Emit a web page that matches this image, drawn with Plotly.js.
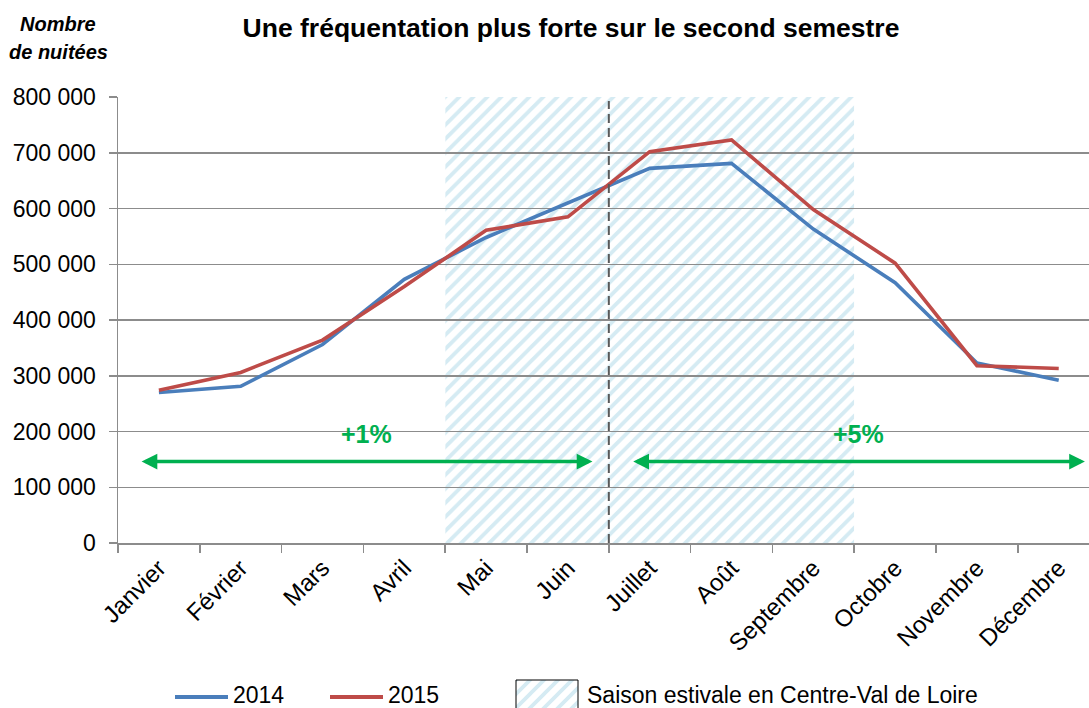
<!DOCTYPE html>
<html>
<head>
<meta charset="utf-8">
<script src="https://cdn.plot.ly/plotly-3.0.1.min.js"></script>
<style>html,body{margin:0;padding:0;background:#fff;}</style>
</head>
<body>
<div id="chart" style="width:1089px;height:708px;"></div>
<script>
const months = ['Janvier','Février','Mars','Avril','Mai','Juin','Juillet','Août','Septembre','Octobre','Novembre','Décembre'];
const nuitees2014 = [270000, 281000, 356000, 473000, 548000, 610000, 672000, 681000, 563000, 467000, 323000, 292000];
const nuitees2015 = [274000, 306000, 364000, 460000, 561000, 585000, 702000, 723000, 598000, 502000, 318000, 313000];
const seasonFirst = 'Mai';
const seasonLast = 'Septembre';
const yMax = 800000;
const yTicks = [0, 100000, 200000, 300000, 400000, 500000, 600000, 700000, 800000];
const growthLabels = ['+1%', '+5%'];
const seriesNames = ['2014', '2015'];
const seasonName = 'Saison estivale en Centre-Val de Loire';

const FONT = '"Liberation Sans", Arial, sans-serif';
const GRID = '#8c8c8c';
const GREEN = '#00B050';
const HATCH = '#d5ebf3';

const W = 1089, H = 708, ML = 118, MT = 97;
const PW = W - ML, PH = H - MT;
const px = x => (x - ML) / PW;
const py = y => (H - y) / PH;

// hatch tile (stripes "/") as an SVG image, placed below the gridlines
function hatchSVG(w, h) {
  const s = 14;
  const svg = `<svg xmlns="http://www.w3.org/2000/svg" width="${w}" height="${h}" viewBox="0 0 ${w} ${h}">` +
    `<defs><pattern id="p" width="${s}" height="${s}" patternUnits="userSpaceOnUse">` +
    `<path d="M-2,2 L2,-2 M0,${s} L${s},0 M${s-2},${s+2} L${s+2},${s-2}" stroke="${HATCH}" stroke-width="3.8"/>` +
    `</pattern></defs><rect x="0" y="0" width="${w}" height="${h}" fill="url(#p)"/></svg>`;
  return 'data:image/svg+xml;charset=utf-8,' + encodeURIComponent(svg);
}

const iFirst = months.indexOf(seasonFirst) - 0.5;
const iLast = months.indexOf(seasonLast) + 0.5;
const xRange = [-0.5, 11.37];
const yDomain = [py(543), 1];
const bandPxW = Math.round((iLast - iFirst) / (xRange[1] - xRange[0]) * PW);
const bandPxH = Math.round((yDomain[1] - yDomain[0]) * PH);

const traces = [
  {type:'scatter', mode:'lines', x: months, y: nuitees2014, name: seriesNames[0],
   line:{color:'#4A7EBB', width:3.6}, showlegend:false},
  {type:'scatter', mode:'lines', x: months, y: nuitees2015, name: seriesNames[1],
   line:{color:'#BE4B48', width:3.6}, showlegend:false}
];

const layout = {
  width: W, height: H,
  margin: {l: ML, r: 0, t: MT, b: 0},
  paper_bgcolor:'#fff', plot_bgcolor:'rgba(0,0,0,0)',
  separators: ', ',
  showlegend: false,
  font: {family: FONT, size: 23, color:'#000'},
  title: {text: 'Une fréquentation plus forte sur le second semestre',
    font:{family: FONT, size: 26.5, color:'#000', weight: 'bold'},
    xref:'container', x: 571 / W, xanchor:'center', yref:'container', y: 1 - 28 / H, yanchor:'middle'},
  xaxis: {type:'category', categoryorder:'array', categoryarray: months,
    range: xRange, domain:[0,1], anchor:'y',
    tickson:'boundaries', ticks:'outside', ticklen:8, tickwidth:1.5, tickcolor:GRID,
    showline:true, linecolor:GRID, linewidth:1.5, showgrid:false, zeroline:false,
    tickangle:-45, tickfont:{family:FONT, size:24, color:'#000'}, automargin:false, fixedrange:true},
  yaxis: {range:[0, yMax], domain: yDomain, anchor:'x',
    tickvals: yTicks, tickformat:',d', ticks:'outside', ticklen:8, tickwidth:1.5, tickcolor:GRID,
    showline:true, linecolor:GRID, linewidth:1.5, showgrid:true, gridcolor:GRID, gridwidth:1.5,
    zeroline:false, tickfont:{family:FONT, size:23, color:'#000'}, ticklabelstandoff: 8,
    automargin:false, fixedrange:true},
  images: [
    {source: hatchSVG(bandPxW, bandPxH), xref:'x', yref:'y', x: iFirst, y: yMax,
     sizex: iLast - iFirst, sizey: yMax, sizing:'stretch', xanchor:'left', yanchor:'top', layer:'below'},
    {source: hatchSVG(62, 30), xref:'paper', yref:'paper', x: px(516), y: py(680),
     sizex: px(578) - px(516), sizey: py(680) - py(710), sizing:'stretch', xanchor:'left', yanchor:'top', layer:'above'}
  ],
  shapes: [
    {type:'line', xref:'x', yref:'y', x0:5.5, x1:5.5, y0:0, y1:793000,
     line:{color:'#595959', width:2, dash:'9px,5px'}},
    {type:'line', xref:'paper', yref:'paper', x0:px(175), x1:px(228), y0:py(697), y1:py(697),
     line:{color:'#4A7EBB', width:4}},
    {type:'line', xref:'paper', yref:'paper', x0:px(330), x1:px(383), y0:py(697), y1:py(697),
     line:{color:'#BE4B48', width:4}},
    {type:'path', xref:'paper', yref:'paper',
     path:`M${px(516)},${py(712)} L${px(516)},${py(680)} L${px(578)},${py(680)} L${px(578)},${py(712)}`,
     line:{color:'#000', width:1}}
  ],
  annotations: [
    {xref:'x', yref:'y', axref:'x', ayref:'y', x:5.30, y:146000, ax:-0.23, ay:146000, text:'',
     showarrow:true, arrowside:'end+start', arrowhead:2, startarrowhead:2, arrowsize:0.9, startarrowsize:0.9,
     arrowwidth:3.5, arrowcolor:GREEN, standoff:0, startstandoff:0},
    {xref:'x', yref:'y', axref:'x', ayref:'y', x:11.32, y:146000, ax:5.78, ay:146000, text:'',
     showarrow:true, arrowside:'end+start', arrowhead:2, startarrowhead:2, arrowsize:0.9, startarrowsize:0.9,
     arrowwidth:3.5, arrowcolor:GREEN, standoff:0, startstandoff:0},
    {xref:'x', yref:'y', x:2.54, y:195000, text: growthLabels[0], showarrow:false,
     font:{family:FONT, size:25, color:GREEN, weight:'bold'}, xanchor:'center', yanchor:'middle'},
    {xref:'x', yref:'y', x:8.55, y:195000, text: growthLabels[1], showarrow:false,
     font:{family:FONT, size:25, color:GREEN, weight:'bold'}, xanchor:'center', yanchor:'middle'},
    {xref:'paper', yref:'paper', x:px(58), y:py(24), text:'<b><i>Nombre</i></b>', showarrow:false,
     font:{family:FONT, size:20, color:'#000'}, xanchor:'center', yanchor:'middle'},
    {xref:'paper', yref:'paper', x:px(58), y:py(52), text:'<b><i>de nuitées</i></b>', showarrow:false,
     font:{family:FONT, size:20, color:'#000'}, xanchor:'center', yanchor:'middle'},
    {xref:'paper', yref:'paper', x:px(231), y:py(695), text: seriesNames[0], showarrow:false,
     font:{family:FONT, size:23, color:'#000'}, xanchor:'left', yanchor:'middle'},
    {xref:'paper', yref:'paper', x:px(386), y:py(695), text: seriesNames[1], showarrow:false,
     font:{family:FONT, size:23, color:'#000'}, xanchor:'left', yanchor:'middle'},
    {xref:'paper', yref:'paper', x:px(585), y:py(695), text: seasonName, showarrow:false,
     font:{family:FONT, size:23, color:'#000'}, xanchor:'left', yanchor:'middle'}
  ]
};

Plotly.newPlot('chart', traces, layout, {staticPlot:true, displayModeBar:false});
</script>
</body>
</html>
